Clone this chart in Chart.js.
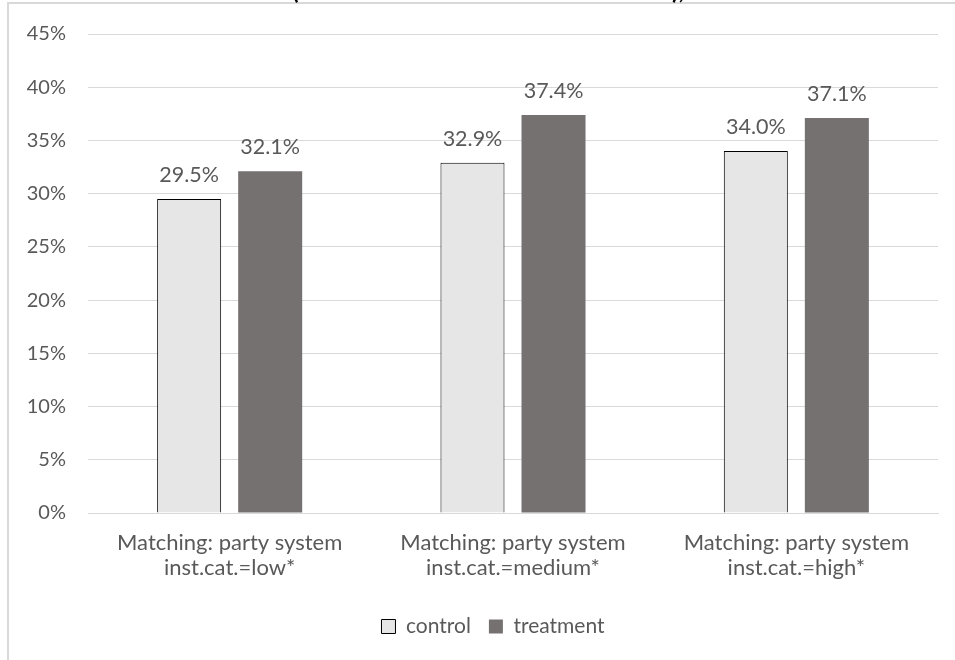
<!DOCTYPE html>
<html>
<head>
<meta charset="utf-8">
<script src="https://cdn.jsdelivr.net/npm/chart.js@4.4.1/dist/chart.umd.min.js"></script>
<style>
  body { margin: 0; background: #fff; }
  #wrap { position: absolute; left: 0; top: 0; width: 955px; height: 660px; }
</style>
</head>
<body>
<div id="wrap"><canvas id="matchChart"></canvas></div>
<script>
// categorias e valores (%)
var categorias = [
    ['Matching: party system', 'inst.cat.=low*'],
    ['Matching: party system', 'inst.cat.=medium*'],
    ['Matching: party system', 'inst.cat.=high*']
];
var controle = [29.5, 32.9, 34.0];
var tratamento = [32.1, 37.4, 37.1];
var yTicks = [0, 5, 10, 15, 20, 25, 30, 35, 40, 45];

var corTexto = '#595959';
var fonte = 'Lato, "Open Sans", sans-serif';

// moldura do gráfico + restos do título cortado no topo
var molduraPlugin = {
    id: 'moldura',
    afterLayout: function(chart) {
        // legenda centrada sobre a área do gráfico, não sobre o canvas todo
        chart.legend.left = chart.chartArea.left - 40;
    },
    beforeDraw: function(chart) {
        var c = chart.ctx;
        c.save();
        c.strokeStyle = '#d9d9d9';
        c.lineWidth = 2;
        c.beginPath();
        c.moveTo(8, 660);
        c.lineTo(8, 3);
        c.lineTo(955, 3);
        c.stroke();
        c.fillStyle = '#000';
        c.font = 'bold 24px ' + fonte;
        c.textBaseline = 'alphabetic';
        c.fillText('(', 292, -1);
        c.fillText('),', 672, -1);
        c.restore();
    }
};

// rótulos de valor acima das barras
var rotulosPlugin = {
    id: 'rotulos',
    afterDatasetsDraw: function(chart) {
        var c = chart.ctx;
        c.save();
        c.fillStyle = corTexto;
        c.font = '21.5px ' + fonte;
        c.textAlign = 'center';
        c.textBaseline = 'alphabetic';
        chart.data.datasets.forEach(function(ds, i) {
            chart.getDatasetMeta(i).data.forEach(function(bar, j) {
                c.fillText(ds.data[j].toFixed(1) + '%', bar.x, bar.y - 17);
            });
        });
        c.restore();
    }
};

var ctx = document.getElementById('matchChart').getContext('2d');
var matchChart = new Chart(ctx, {
    type: 'bar',
    data: {
        labels: categorias,
        datasets: [{
            label: 'control',
            data: controle,
            backgroundColor: '#e7e6e6',
            borderColor: '#000000',
            borderWidth: 1
        }, {
            label: 'treatment',
            data: tratamento,
            backgroundColor: '#767171',
            borderColor: '#767171',
            borderWidth: 0
        }]
    },
    options: {
        responsive: true,
        maintainAspectRatio: false,
        animation: false,
        categoryPercentage: 0.572,
        barPercentage: 0.79,
        layout: {
            padding: { top: 34, right: 17, left: 0, bottom: 13 }
        },
        scales: {
            x: {
                grid: { display: false },
                border: { display: true, color: '#d9d9d9', width: 1 },
                ticks: {
                    color: corTexto,
                    font: { family: fonte, size: 22, lineHeight: 1.15 },
                    padding: 9,
                    maxRotation: 0,
                    autoSkip: false
                },
                afterFit: function(scale) { scale.height = 85; }
            },
            y: {
                min: 0,
                max: 45,
                afterBuildTicks: function(scale) {
                    scale.ticks = yTicks.map(function(v) { return { value: v }; });
                },
                grid: { color: '#d9d9d9', lineWidth: 1, drawTicks: false },
                border: { display: false },
                ticks: {
                    color: corTexto,
                    font: { family: fonte, size: 20 },
                    padding: 22,
                    callback: function(v) { return v + '%'; }
                },
                afterFit: function(scale) { scale.width = 88; }
            }
        },
        plugins: {
            legend: {
                position: 'bottom',
                labels: {
                    color: corTexto,
                    font: { family: fonte, size: 21 },
                    boxWidth: 14,
                    boxHeight: 14,
                    padding: 18
                }
            },
            tooltip: { enabled: false }
        }
    },
    plugins: [molduraPlugin, rotulosPlugin]
});
</script>
</body>
</html>
